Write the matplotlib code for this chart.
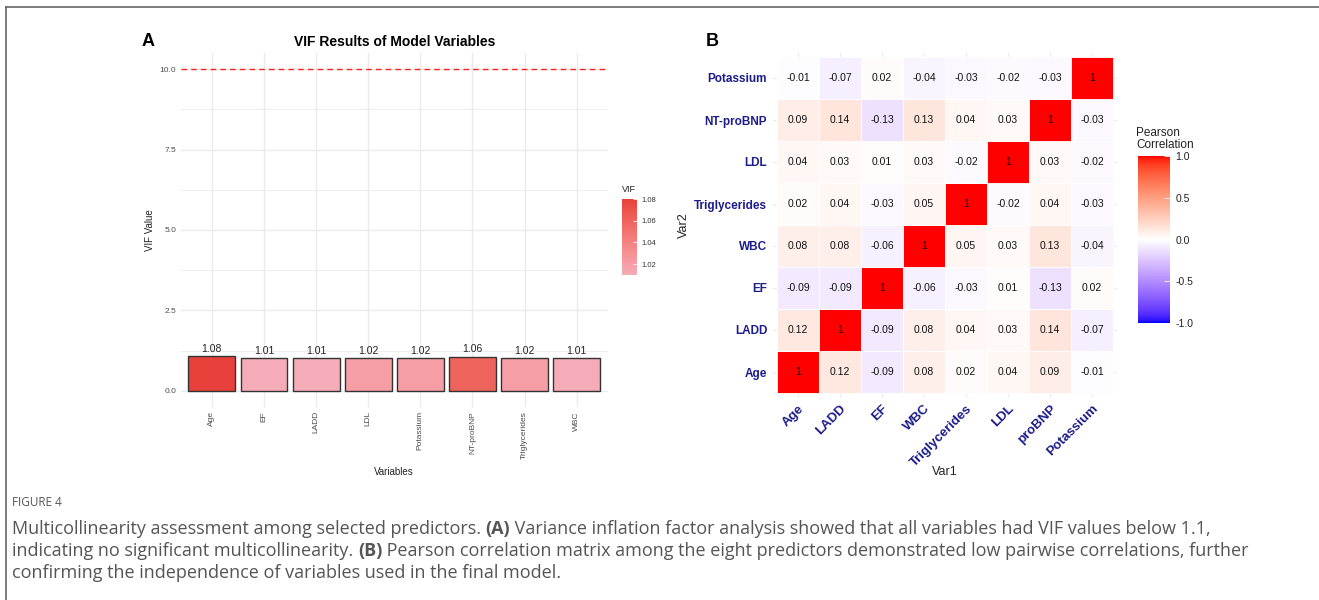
import numpy as np
import matplotlib.pyplot as plt
from matplotlib.colors import ListedColormap, Normalize, to_rgb
from matplotlib.cm import ScalarMappable

plt.rcParams['font.family'] = ['Liberation Sans', 'DejaVu Sans']

# panel A: variance inflation factors
vif_vars = ['Age', 'EF', 'LADD', 'LDL', 'Potassium', 'NT-proBNP', 'Triglycerides', 'WBC']
vif_vals = [1.08, 1.01, 1.01, 1.02, 1.02, 1.06, 1.02, 1.01]
vif_threshold = 10.0

# panel B: pearson correlation matrix (rows/cols in this order)
corr_vars = ['Age', 'LADD', 'EF', 'WBC', 'Triglycerides', 'LDL', 'NT-proBNP', 'Potassium']
corr_xlabels = ['Age', 'LADD', 'EF', 'WBC', 'Triglycerides', 'LDL', 'proBNP', 'Potassium']
corr = [
    [1.00, 0.12, -0.09, 0.08, 0.02, 0.04, 0.09, -0.01],
    [0.12, 1.00, -0.09, 0.08, 0.04, 0.03, 0.14, -0.07],
    [-0.09, -0.09, 1.00, -0.06, -0.03, 0.01, -0.13, 0.02],
    [0.08, 0.08, -0.06, 1.00, 0.05, 0.03, 0.13, -0.04],
    [0.02, 0.04, -0.03, 0.05, 1.00, -0.02, 0.04, -0.03],
    [0.04, 0.03, 0.01, 0.03, -0.02, 1.00, 0.03, -0.02],
    [0.09, 0.14, -0.13, 0.13, 0.04, 0.03, 1.00, -0.03],
    [-0.01, -0.07, 0.02, -0.04, -0.03, -0.02, -0.03, 1.00],
]


# --- Lab interpolation, so gradients look like ggplot's ---
def srgb_to_lab(rgb):
    c = np.asarray(rgb, float)
    c = np.where(c <= 0.04045, c / 12.92, ((c + 0.055) / 1.055) ** 2.4)
    M = np.array([[0.4124, 0.3576, 0.1805], [0.2126, 0.7152, 0.0722], [0.0193, 0.1192, 0.9505]])
    xyz = M @ c / np.array([0.95047, 1.0, 1.08883])
    f = np.where(xyz > 0.008856, np.cbrt(xyz), 7.787 * xyz + 16 / 116)
    return np.array([116 * f[1] - 16, 500 * (f[0] - f[1]), 200 * (f[1] - f[2])])


def lab_to_srgb(lab):
    L, a, b = lab
    fy = (L + 16) / 116
    fx = fy + a / 500
    fz = fy - b / 200
    f = np.array([fx, fy, fz])
    xyz = np.where(f ** 3 > 0.008856, f ** 3, (f - 16 / 116) / 7.787) * np.array([0.95047, 1.0, 1.08883])
    Mi = np.array([[3.2406, -1.5372, -0.4986], [-0.9689, 1.8758, 0.0415], [0.0557, -0.2040, 1.0570]])
    c = Mi @ xyz
    c = np.where(c <= 0.0031308, 12.92 * c, 1.055 * np.clip(c, 0, None) ** (1 / 2.4) - 0.055)
    return np.clip(c, 0, 1)


def lab_cmap(colors, n=256):
    labs = [srgb_to_lab(to_rgb(c)) for c in colors]
    pos = np.linspace(0, 1, len(labs))
    out = []
    for t in np.linspace(0, 1, n):
        k = min(np.searchsorted(pos, t, side='right') - 1, len(labs) - 2)
        u = (t - pos[k]) / (pos[k + 1] - pos[k])
        out.append(lab_to_srgb(labs[k] * (1 - u) + labs[k + 1] * u))
    return ListedColormap(out)


W, H = 1319, 600
fig = plt.figure(figsize=(W / 100, H / 100), dpi=100)


def px_axes(x0, y0, x1, y1):
    return fig.add_axes([x0 / W, 1 - y1 / H, (x1 - x0) / W, (y1 - y0) / H])


# frame lines (top and left)
fig.add_artist(plt.Line2D([6 / W, 1], [1 - 7 / H, 1 - 7 / H], color='#666666', lw=1.2))
fig.add_artist(plt.Line2D([6 / W, 6 / W], [0, 1 - 7 / H], color='#666666', lw=1.2))

grid_col = '#EBEBEB'
tick_col = '#4D4D4D'

# ---------- A: VIF bars ----------
axA = px_axes(180.6, 53, 608, 407)
vif_cmap = lab_cmap(['#F5ACB8', '#E8403A'])
vnorm = Normalize(min(vif_vals), max(vif_vals))
xpos = np.arange(1, len(vif_vars) + 1)
axA.bar(xpos, vif_vals, width=0.9, color=vif_cmap(vnorm(vif_vals)),
        edgecolor='#333333', linewidth=1.0, zorder=3)
for x, v in zip(xpos, vif_vals):
    axA.text(x, v + 0.08, f'{v:.2f}', ha='center', va='bottom', fontsize=7.5, color='#222222', zorder=4)
axA.axhline(vif_threshold, color='#FF2020', lw=1.0, ls=(0, (4, 3)), zorder=3)
axA.set_xlim(0.4, len(vif_vars) + 0.6)
axA.set_ylim(-0.5, 10.5)
axA.set_yticks([0, 2.5, 5, 7.5, 10])
axA.set_yticklabels(['0.0', '2.5', '5.0', '7.5', '10.0'])
axA.set_yticks([1.25, 3.75, 6.25, 8.75], minor=True)
axA.set_xticks(xpos)
axA.set_xticklabels(vif_vars, rotation=90, va='top', ha='center')
axA.grid(True, which='major', color=grid_col, lw=1.0, zorder=0)
axA.grid(True, which='minor', axis='y', color=grid_col, lw=0.6, zorder=0)
axA.tick_params(which='both', length=0, labelsize=6, labelcolor=tick_col, pad=3)
for s in axA.spines.values():
    s.set_visible(False)
axA.set_xlabel('Variables', fontsize=7, color='#222222')
axA.set_ylabel('VIF Value', fontsize=7, color='#222222')
axA.xaxis.set_label_coords(0.5, (407 - 467) / 354)
axA.yaxis.set_label_coords((155 - 180.6) / 427.4, 0.5)
axA.set_title('VIF Results of Model Variables', fontsize=10, fontweight='bold', pad=5)
fig.text(148 / W, 1 - 42 / H, 'A', fontsize=13, fontweight='bold', va='center', ha='center')

caxA = px_axes(622, 199, 637, 275)
cbA = fig.colorbar(ScalarMappable(norm=vnorm, cmap=vif_cmap), cax=caxA)
cbA.set_ticks([1.02, 1.04, 1.06, 1.08])
cbA.set_ticklabels(['1.02', '1.04', '1.06', '1.08'])
cbA.outline.set_visible(False)
caxA.tick_params(length=3, width=0.6, color='white', direction='in', labelsize=5.5,
                 labelcolor='#333333', pad=3)
fig.text(622 / W, 1 - 190 / H, 'VIF', fontsize=6.5, color='#222222', va='center')

# ---------- B: correlation heatmap ----------
axB = px_axes(772.8, 52.8, 1117.2, 397.2)
corr_cmap = lab_cmap(['#0000FF', '#FFFFFF', '#FF0000'])
cnorm = Normalize(-1, 1)
n = len(corr_vars)
for i in range(n):
    for j in range(n):
        v = corr[i][j]
        axB.add_patch(plt.Rectangle((j + 0.5, i + 0.5), 1, 1, facecolor=corr_cmap(cnorm(v)),
                                    edgecolor='white', lw=0.6, zorder=2))
        lab = '1' if v == 1 else f'{v:.2f}'
        axB.text(j + 1, i + 1, lab, ha='center', va='center', fontsize=7.5, color='#111111', zorder=3)
axB.set_xlim(0.4, n + 0.6)
axB.set_ylim(0.4, n + 0.6)
axB.set_xticks(np.arange(1, n + 1))
axB.set_yticks(np.arange(1, n + 1))
axB.set_xticklabels(corr_xlabels, rotation=45, ha='right', va='top', rotation_mode='anchor',
                    fontsize=9.5)
axB.set_yticklabels(corr_vars, fontsize=8.5)
for lab in axB.get_xticklabels() + axB.get_yticklabels():
    lab.set_fontweight('bold')
    lab.set_color('#1C1C8A')
axB.grid(True, color=grid_col, lw=0.8, zorder=0)
axB.tick_params(length=0, pad=4)
for s in axB.spines.values():
    s.set_visible(False)
axB.set_xlabel('Var1', fontsize=9, color='#222222')
axB.set_ylabel('Var2', fontsize=9, color='#222222')
axB.xaxis.set_label_coords(0.5, (397.2 - 466) / 344.4)
axB.yaxis.set_label_coords((690 - 772.8) / 344.4, 0.5)
fig.text(712 / W, 1 - 42 / H, 'B', fontsize=13, fontweight='bold', va='center', ha='center')

caxB = px_axes(1138, 156, 1170, 323)
cbB = fig.colorbar(ScalarMappable(norm=cnorm, cmap=corr_cmap), cax=caxB)
cbB.set_ticks([-1, -0.5, 0, 0.5, 1])
cbB.set_ticklabels(['-1.0', '-0.5', '0.0', '0.5', '1.0'])
cbB.outline.set_visible(False)
caxB.tick_params(length=4, width=0.6, color='white', direction='in', labelsize=7.5,
                 labelcolor='#222222', pad=4)
fig.text(1136 / W, 1 - 139 / H, 'Pearson\nCorrelation', fontsize=8.5, color='#222222',
         va='center', linespacing=1.0)

# ---------- caption ----------
cap_font = ['Open Sans', 'DejaVu Sans']
cap_col = '#555555'
fig.text(12 / W, 1 - 503 / H, 'FIGURE 4', fontsize=8.5, color=cap_col, va='center', family=cap_font)

caption_lines = [
    [('Multicollinearity assessment among selected predictors. ', 'normal'), ('(A)', 'bold'),
     (' Variance inflation factor analysis showed that all variables had VIF values below 1.1,', 'normal')],
    [('indicating no significant multicollinearity. ', 'normal'), ('(B)', 'bold'),
     (' Pearson correlation matrix among the eight predictors demonstrated low pairwise correlations, further', 'normal')],
    [('confirming the independence of variables used in the final model.', 'normal')],
]
renderer = fig.canvas.get_renderer()
for k, segs in enumerate(caption_lines):
    x = 12
    y = 1 - (529 + 22 * k) / H
    for txt, wt in segs:
        t = fig.text(x / W, y, txt, fontsize=13, color=cap_col, va='center',
                     fontweight=wt, family=cap_font)
        x += t.get_window_extent(renderer).width

fig.savefig('out.png', dpi=100)
